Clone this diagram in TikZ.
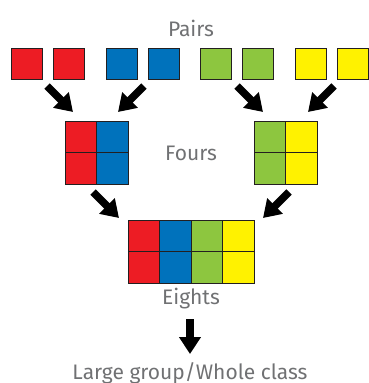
\documentclass[tikz,border=0pt]{standalone}
\usepackage{fontspec}
\setmainfont{Fira Sans}
\usetikzlibrary{arrows.meta}
\definecolor{cred}{HTML}{ED1C24}
\definecolor{cblue}{HTML}{0072BC}
\definecolor{cgreen}{HTML}{8DC63F}
\definecolor{cyellow}{HTML}{FFF200}
\definecolor{txtgray}{HTML}{707173}
\definecolor{edge}{HTML}{231F20}
\begin{document}
\begin{tikzpicture}[x=1pt,y=-1pt,
  sq/.style={draw=edge,line width=0.9pt,minimum size=31.5pt,inner sep=0pt,outer sep=0pt},
  lbl/.style={text=txtgray,font=\fontsize{21}{24}\selectfont,anchor=base,inner sep=0pt},
  bigarrow/.style={line width=7.5pt,-{Triangle[width=21pt,length=17pt]}}]
\useasboundingbox (0,0) rectangle (368,383);
% Pairs
\node[lbl] (pairs) at (191,36) {Pairs};
\node[sq,fill=cred]    (p1) at (26.75,64) {};
\node[sq,fill=cred]    (p2) at (68.75,64) {};
\node[sq,fill=cblue]   (p3) at (121.75,64) {};
\node[sq,fill=cblue]   (p4) at (163.75,64) {};
\node[sq,fill=cgreen]  (p5) at (215.75,64) {};
\node[sq,fill=cgreen]  (p6) at (257.75,64) {};
\node[sq,fill=cyellow] (p7) at (310.75,64) {};
\node[sq,fill=cyellow] (p8) at (352.75,64) {};
% Fours
\node[sq,fill=cred]    (fa1) at (80.75,136.75) {};
\node[sq,fill=cblue]   (fa2) at (112.25,136.75) {};
\node[sq,fill=cred]    (fa3) at (80.75,168.25) {};
\node[sq,fill=cblue]   (fa4) at (112.25,168.25) {};
\node[sq,fill=cgreen]  (fb1) at (269.75,136.75) {};
\node[sq,fill=cyellow] (fb2) at (301.25,136.75) {};
\node[sq,fill=cgreen]  (fb3) at (269.75,168.25) {};
\node[sq,fill=cyellow] (fb4) at (301.25,168.25) {};
\node[lbl] (fours) at (191,160) {Fours};
% Eights
\node[sq,fill=cred]    (e1) at (143.75,235.75) {};
\node[sq,fill=cblue]   (e2) at (175.25,235.75) {};
\node[sq,fill=cgreen]  (e3) at (206.75,235.75) {};
\node[sq,fill=cyellow] (e4) at (238.25,235.75) {};
\node[sq,fill=cred]    (e5) at (143.75,267.25) {};
\node[sq,fill=cblue]   (e6) at (175.25,267.25) {};
\node[sq,fill=cgreen]  (e7) at (206.75,267.25) {};
\node[sq,fill=cyellow] (e8) at (238.25,267.25) {};
\node[lbl] (eights) at (191,304) {Eights};
\node[lbl] (whole) at (190,379.5) {Large group/Whole class};
% arrow coordinates
\coordinate (a1s) at (47,86);  \coordinate (a1e) at (73,112);
\coordinate (a2s) at (144,86); \coordinate (a2e) at (118,112);
\coordinate (a3s) at (237,86); \coordinate (a3e) at (263,112);
\coordinate (a4s) at (334,86); \coordinate (a4e) at (308,112);
\coordinate (b1s) at (93,192); \coordinate (b1e) at (119,218);
\coordinate (b2s) at (289,192); \coordinate (b2e) at (263,218);
\coordinate (cs) at (190,319); \coordinate (ce) at (190,354);
\draw[bigarrow] (a1s) -- (a1e);
\draw[bigarrow] (a2s) -- (a2e);
\draw[bigarrow] (a3s) -- (a3e);
\draw[bigarrow] (a4s) -- (a4e);
\draw[bigarrow] (b1s) -- (b1e);
\draw[bigarrow] (b2s) -- (b2e);
\draw[bigarrow] (cs) -- (ce);
\end{tikzpicture}
\end{document}
